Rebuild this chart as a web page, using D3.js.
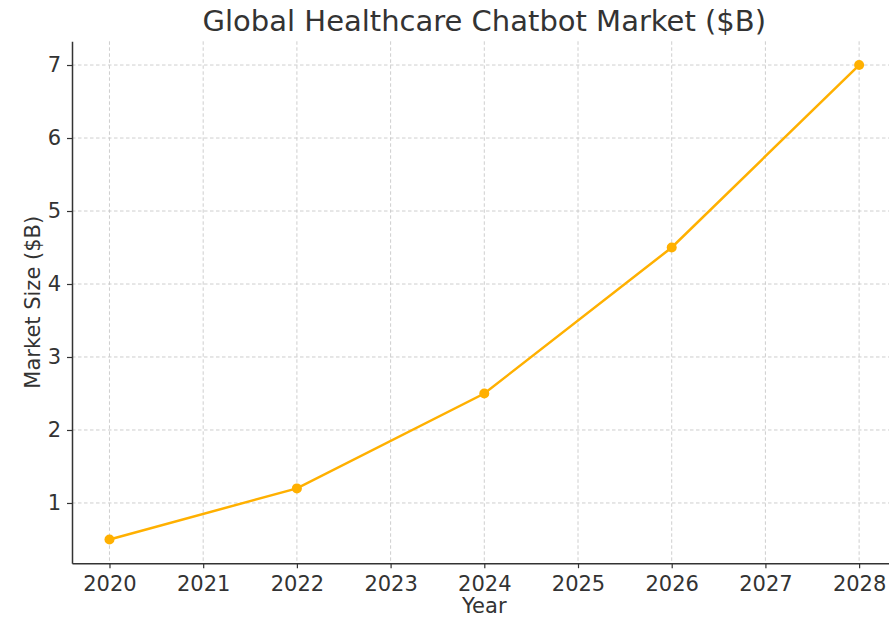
<!DOCTYPE html>
<html><head><meta charset="utf-8">
<script src="https://cdn.jsdelivr.net/npm/d3@7"></script>
<style>body{margin:0;background:#fff}svg{display:block}</style>
</head><body>
<svg id="c" width="889" height="617"></svg>
<script>
const years = [2020, 2022, 2024, 2026, 2028];
const marketSize = [0.5, 1.2, 2.5, 4.5, 7.0];
const xTicks = [2020, 2021, 2022, 2023, 2024, 2025, 2026, 2027, 2028];
const yTicks = [1, 2, 3, 4, 5, 6, 7];
const titleText = "Global Healthcare Chatbot Market ($B)";
const xLabel = "Year";
const yLabel = "Market Size ($B)";

(function () {
const svg = d3.select("#c");
const font = "DejaVu Sans, sans-serif";
const textColor = "#333";
const pL = 72, pR = 896.6, pT = 41.3, pB = 563.2;
const x = d3.scaleLinear().domain([2019.6, 2028.4]).range([pL, pR]);
const y = d3.scaleLinear().domain([0.175, 7.325]).range([pB, pT]);

// grid
const g = svg.append("g");
g.selectAll(".vg").data(xTicks).enter().append("line")
  .attr("x1", d => x(d)).attr("x2", d => x(d)).attr("y1", pT).attr("y2", pB)
  .attr("stroke", "#c8c8c8").attr("stroke-width", 0.9).attr("stroke-dasharray", "3.5,2.5");
g.selectAll(".hg").data(yTicks).enter().append("line")
  .attr("x1", pL).attr("x2", pR).attr("y1", d => y(d)).attr("y2", d => y(d))
  .attr("stroke", "#c8c8c8").attr("stroke-width", 0.9).attr("stroke-dasharray", "3.5,2.5");

// axes
const xAxis = svg.append("g").attr("transform", `translate(0,${pB})`)
  .call(d3.axisBottom(x).tickValues(xTicks).tickFormat(d3.format("d")).tickSize(5).tickSizeOuter(0).tickPadding(5));
const yAxis = svg.append("g").attr("transform", `translate(${pL},0)`)
  .call(d3.axisLeft(y).tickValues(yTicks).tickFormat(d3.format("d")).tickSize(5).tickSizeOuter(0).tickPadding(6));
[xAxis, yAxis].forEach(a => {
  a.select(".domain").attr("stroke", "#333").attr("stroke-width", 1.5);
  a.selectAll(".tick line").attr("stroke", "#333").attr("stroke-width", 1.2);
  a.selectAll(".tick text").attr("fill", textColor).attr("font-family", font).attr("font-size", 21);
});
xAxis.selectAll(".tick text").attr("dy", "0.85em");

// line
const pts = years.map((yr, i) => [yr, marketSize[i]]);
svg.append("path").datum(pts)
  .attr("fill", "none").attr("stroke", "#FFB000").attr("stroke-width", 2.5)
  .attr("d", d3.line().x(d => x(d[0])).y(d => y(d[1])));
svg.selectAll(".pt").data(pts).enter().append("circle")
  .attr("cx", d => x(d[0])).attr("cy", d => y(d[1])).attr("r", 5).attr("fill", "#FFB000");

// labels
svg.append("text").attr("x", (pL + pR) / 2).attr("y", 31).attr("text-anchor", "middle")
  .attr("font-family", font).attr("font-size", 29).attr("fill", textColor).text(titleText);
svg.append("text").attr("x", (pL + pR) / 2).attr("y", 613).attr("text-anchor", "middle")
  .attr("font-family", font).attr("font-size", 21).attr("fill", textColor).text(xLabel);
svg.append("text").attr("transform", `translate(40,${(pT + pB) / 2}) rotate(-90)`).attr("text-anchor", "middle")
  .attr("font-family", font).attr("font-size", 21).attr("fill", textColor).text(yLabel);
})();
</script>
</body></html>
